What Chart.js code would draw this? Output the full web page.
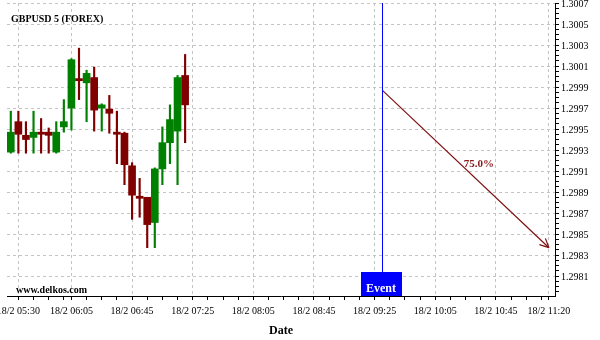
<!DOCTYPE html>
<html><head><meta charset="utf-8">
<script src="https://cdn.jsdelivr.net/npm/chart.js@4/dist/chart.umd.min.js"></script>
<style>html,body{margin:0;padding:0;background:#fff;}#wrap{width:600px;height:340px;}</style>
</head><body><div id="wrap"><canvas id="c" width="600" height="340"></canvas></div>
<script>
// ---- data ----
const times  = ['05:25','05:30','05:35','05:40','05:45','05:50','05:55','06:00','06:05','06:10','06:15','06:20',
                '06:25','06:30','06:35','06:40','06:45','06:50','06:55','07:00','07:05','07:10','07:15','07:20'];
const opens  = [1.29928,1.29957,1.29944,1.29942,1.29947,1.29947,1.29928,1.29952,1.29970,1.29998,1.29994,1.29999,
                1.29970,1.29969,1.29947,1.29946,1.29915,1.29886,1.29885,1.29861,1.29912,1.29937,1.29948,1.30001];
const highs  = [1.29967,1.29967,1.29957,1.29967,1.29960,1.29951,1.29957,1.29978,1.30017,1.30027,1.30006,1.30009,
                1.29974,1.29982,1.29967,1.29947,1.29918,1.29903,1.29885,1.29913,1.29952,1.29973,1.30001,1.30021];
const lows   = [1.29927,1.29927,1.29927,1.29927,1.29927,1.29927,1.29927,1.29947,1.29949,1.29978,1.29957,1.29948,
                1.29948,1.29946,1.29917,1.29897,1.29864,1.29866,1.29837,1.29837,1.29897,1.29917,1.29897,1.29937];
const closes = [1.29947,1.29945,1.29940,1.29947,1.29945,1.29944,1.29947,1.29957,1.30016,1.29996,1.30003,1.29968,
                1.29973,1.29965,1.29945,1.29916,1.29887,1.29884,1.29859,1.29912,1.29937,1.29959,1.29999,1.29973];
const xTickLabels = ['18/2 05:30','18/2 06:05','18/2 06:45','18/2 07:25','18/2 08:05','18/2 08:45',
                     '18/2 09:25','18/2 10:05','18/2 10:45','18/2 11:20'];
const yTickLabels = ['1.2981','1.2983','1.2985','1.2987','1.2989','1.2991','1.2993','1.2995','1.2997',
                     '1.2999','1.3001','1.3003','1.3005','1.3007'];
const eventTime = '09:30';
const eventLabel = 'Event';
const forecastTimes = ['09:30','11:20'];
const forecastValues = [1.29987, 1.29837];
const forecastLabel = '75.0%';
const chartTitle = 'GBPUSD 5 (FOREX)';
const watermark = 'www.delkos.com';
const xAxisTitle = 'Date';

// ---- helpers ----
const SERIF = '"Liberation Serif","Times New Roman",serif';
const GREEN = '#008000', RED = '#800000', ARROW = '#7e1010';
const toMin = t => { const [h, m] = t.split(':').map(Number); return h * 60 + m; };
const candleColor = times.map((t, i) => closes[i] >= opens[i] ? GREEN : RED);

const xMajor = xTickLabels.map(l => toMin(l.split(' ')[1]));
const xTicks = [];
xMajor.forEach((v, i) => {
  xTicks.push({value: v, isMajor: true, text: xTickLabels[i]});
  const next = xMajor[i + 1];
  if (next !== undefined) for (let m = v + 10; m < next; m += 10) xTicks.push({value: m, isMajor: false, text: ''});
});
xTicks.sort((a, b) => a.value - b.value);

const Y_MIN = 1.29791, Y_MAX = 1.3007;
// minor ticks every quarter of the labelled step
const yMajorK = yTickLabels.map(l => Math.round(parseFloat(l) * 20000));
const yTicks = [];
for (let k = Math.ceil(Y_MIN * 20000 - 1e-6); k <= Math.round(Y_MAX * 20000); k++) {
  const idx = yMajorK.indexOf(k);
  yTicks.push({value: k / 20000, isMajor: idx >= 0, text: idx >= 0 ? yTickLabels[idx] : ''});
}

const overlay = {
  id: 'overlay',
  afterDatasetsDraw(chart) {
    const {ctx, chartArea: ca, scales: {x, y}} = chart;
    ctx.save();
    // event line + box
    const ex = Math.round(x.getPixelForValue(toMin(eventTime))) + 0.5;
    ctx.strokeStyle = '#0000ff'; ctx.lineWidth = 1;
    ctx.beginPath(); ctx.moveTo(ex, ca.top); ctx.lineTo(ex, ca.bottom); ctx.stroke();
    ctx.fillStyle = '#0000ff';
    ctx.fillRect(Math.round(ex - 22), ca.bottom - 24, 41, 24);
    ctx.fillStyle = '#ffffff';
    ctx.font = 'bold 12px ' + SERIF;
    ctx.textAlign = 'center'; ctx.textBaseline = 'alphabetic';
    ctx.fillText(eventLabel, ex - 1.5, ca.bottom - 4);
    // arrow head
    const x1 = x.getPixelForValue(toMin(forecastTimes[0])), y1 = y.getPixelForValue(forecastValues[0]);
    const x2 = x.getPixelForValue(toMin(forecastTimes[1])), y2 = y.getPixelForValue(forecastValues[1]);
    const ang = Math.atan2(y2 - y1, x2 - x1);
    ctx.strokeStyle = ARROW; ctx.lineWidth = 1.2;
    ctx.beginPath();
    [-1, 1].forEach(s => {
      ctx.moveTo(x2, y2);
      ctx.lineTo(x2 - 10 * Math.cos(ang + s * 0.45), y2 - 10 * Math.sin(ang + s * 0.45));
    });
    ctx.stroke();
    // forecast label
    const t = 0.58;
    ctx.fillStyle = '#8b1a1a';
    ctx.font = 'bold 11px ' + SERIF;
    ctx.textAlign = 'center';
    ctx.fillText(forecastLabel, x1 + (x2 - x1) * t, y1 + (y2 - y1) * t - 15);
    // title & watermark
    ctx.fillStyle = '#000';
    ctx.textAlign = 'left';
    ctx.font = 'bold 10px ' + SERIF;
    ctx.fillText(chartTitle, 11, 22);
    ctx.fillText(watermark, 16, 293);
    ctx.restore();
  }
};

const gridColor = c => (c.tick && c.tick.isMajor) ? '#c4c4c4' : 'rgba(0,0,0,0)';

new Chart(document.getElementById('c'), {
  type: 'bar',
  data: {
    datasets: [
      {
        label: 'wick',
        data: times.map((t, i) => ({x: toMin(t), y: [lows[i], highs[i]]})),
        backgroundColor: candleColor,
        barThickness: 1.5,
        grouped: false,
        order: 2
      },
      {
        label: 'body',
        data: times.map((t, i) => ({x: toMin(t), y: [opens[i], closes[i]]})),
        backgroundColor: candleColor,
        barThickness: 7,
        grouped: false,
        order: 1
      },
      {
        type: 'line',
        label: 'forecast',
        data: forecastTimes.map((t, i) => ({x: toMin(t), y: forecastValues[i]})),
        borderColor: ARROW,
        borderWidth: 1.2,
        pointRadius: 0,
        order: 0
      }
    ]
  },
  options: {
    responsive: false,
    animation: false,
    devicePixelRatio: 1,
    layout: {padding: {top: 3, left: 7, right: 0, bottom: 0}},
    plugins: {legend: {display: false}, tooltip: {enabled: false}},
    scales: {
      x: {
        type: 'linear',
        min: 322.5, max: 684,
        offset: false,
        afterBuildTicks: s => { s.ticks = xTicks.map(t => ({...t})); },
        afterFit: s => { s.height = 44; s.paddingLeft = 0; s.paddingRight = 0; },
        ticks: {
          autoSkip: false, maxRotation: 0, minRotation: 0, padding: 5,
          color: '#000', font: {family: SERIF, size: 10},
          callback: (v, i) => xTicks[i] ? xTicks[i].text : ''
        },
        grid: {offset: false, color: gridColor, tickColor: '#000', tickLength: 4, lineWidth: 1},
        border: {display: true, color: '#000', width: 1, dash: [3, 3]},
        title: {display: true, text: xAxisTitle, color: '#000', font: {family: SERIF, size: 12, weight: 'bold'}, padding: {top: 0, bottom: 2}}
      },
      y: {
        type: 'linear',
        position: 'right',
        min: Y_MIN, max: Y_MAX,
        afterBuildTicks: s => { s.ticks = yTicks.map(t => ({...t})); },
        afterFit: s => { s.width = 45; s.paddingTop = 0; s.paddingBottom = 0; },
        ticks: {
          autoSkip: false, padding: 2, labelOffset: 1.5, color: '#000', font: {family: SERIF, size: 10},
          callback: (v, i) => yTicks[i] ? yTicks[i].text : ''
        },
        grid: {color: gridColor, tickColor: '#000', tickLength: 4, lineWidth: 1},
        border: {display: true, color: '#000', width: 1, dash: [3, 3]}
      }
    }
  },
  plugins: [overlay]
});
</script>
</body></html>
